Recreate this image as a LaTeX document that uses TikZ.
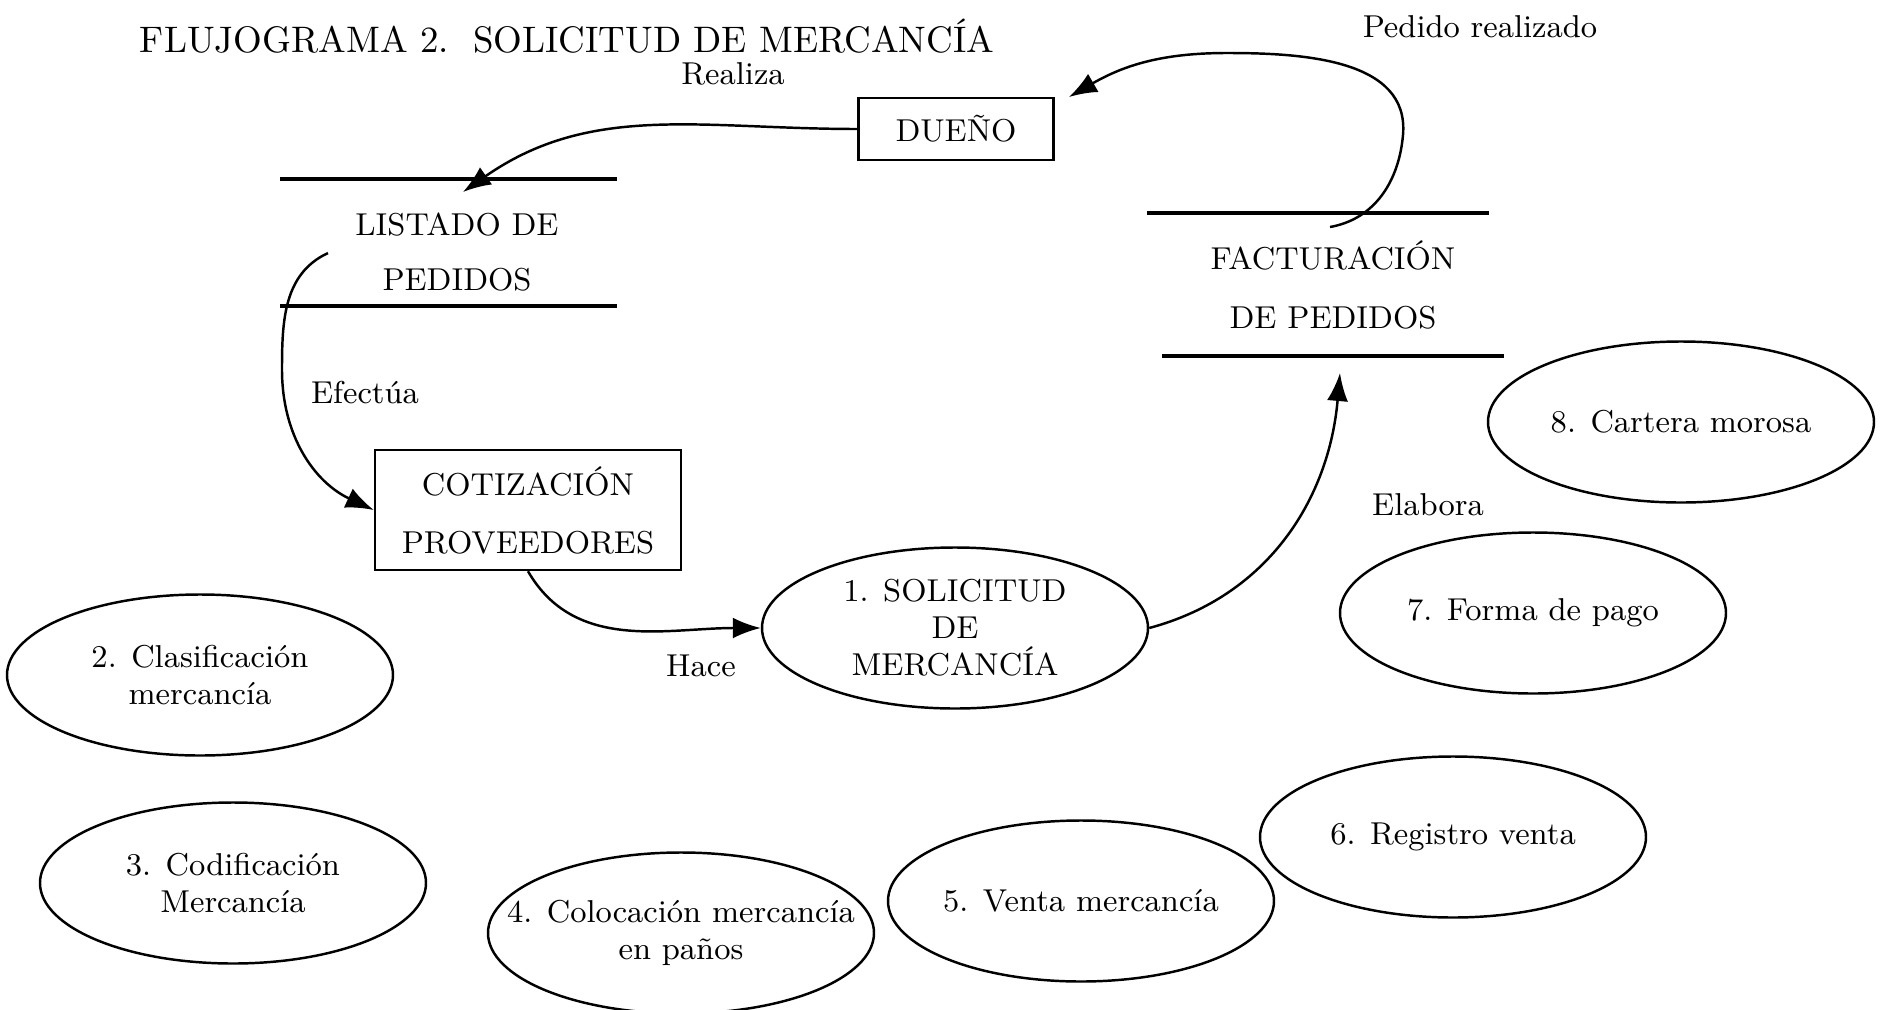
\documentclass[tikz,border=0pt]{standalone}
\usepackage{tikz}
\usetikzlibrary{arrows.meta,positioning,shapes}

\begin{document}
\begin{tikzpicture}[
  every node/.style={font=\fontsize{9}{10.5}\selectfont},
  proc/.style={ellipse,draw,line width=0.7pt,inner ysep=0pt,inner xsep=-6mm,align=center,
    minimum width=3.86cm,minimum height=1.61cm},
  ent/.style={rectangle,draw,line width=0.7pt,inner sep=0pt,align=center},
  arr/.style={-{Latex[length=2.8mm,width=2.1mm]},line width=0.7pt},
  store/.style={line width=0.9pt}]

  \useasboundingbox (0,0) rectangle (18.87,-10.10);

  % Title
  \node[font=\fontsize{10.5}{12}\selectfont] (titulo) at (5.67,-0.36) {FLUJOGRAMA 2.\ \ SOLICITUD DE MERCANCÍA};

  % Entities
  \node[ent,minimum width=1.95cm,minimum height=0.62cm] (dueno) at (9.56,-1.29) {DUEÑO};
  \node[ent,minimum width=3.06cm,minimum height=1.20cm] (cotiz) at (5.28,-5.10) {COTIZACIÓN\\[6pt]PROVEEDORES};

  % Data stores
  \node[align=center] (listado) at (4.57,-2.52) {LISTADO DE\\[5.4pt]PEDIDOS};
  \draw[store] (2.80,-1.79) -- (6.17,-1.79);
  \draw[store] (2.80,-3.06) -- (6.17,-3.06);
  \node[align=center] (factura) at (13.33,-2.85) {FACTURACIÓN\\[6.3pt]DE PEDIDOS};
  \draw[store] (11.47,-2.13) -- (14.89,-2.13);
  \draw[store] (11.62,-3.56) -- (15.04,-3.56);

  % Processes
  \node[proc] (sol) at (9.55,-6.28) {1. SOLICITUD\\DE\\MERCANCÍA};
  \node[proc] (clasif) at (2.00,-6.75) {2. Clasificación\\mercancía};
  \node[proc] (codif) at (2.33,-8.83) {3. Codificación\\Mercancía};
  \node[proc] (coloc) at (6.81,-9.33) {4. Colocación mercancía\\en paños};
  \node[proc] (venta) at (10.81,-9.01) {5. Venta mercancía};
  \node[proc] (registro) at (14.53,-8.37) {6. Registro venta};
  \node[proc] (pago) at (15.33,-6.13) {7. Forma de pago};
  \node[proc] (cartera) at (16.81,-4.22) {8. Cartera morosa};

  % Labels
  \node (realiza) at (7.33,-0.74) {Realiza};
  \node (pedido) at (14.80,-0.27) {Pedido realizado};
  \node (efectua) at (3.65,-3.93) {Efectúa};
  \node (hace) at (7.01,-6.66) {Hace};
  \node (elabora) at (14.28,-5.05) {Elabora};

  % Free ends
  \coordinate (listtop) at (4.63,-1.92);
  \coordinate (listsal) at (3.28,-2.53);
  \coordinate (factsal) at (13.30,-2.27);
  \coordinate (factbot) at (13.40,-3.73);
  \coordinate (duenotip) at (10.69,-0.97);

  % Connectors
  \draw[arr] (dueno.west) to[out=180,in=35] (listtop);
  \draw[arr] (listsal) to[out=205,in=90] (2.82,-3.70) to[out=-90,in=155] (cotiz.west);
  \draw[arr] (cotiz.south) to[out=-60,in=180] (sol.west);
  \draw[arr] (sol.east) to[out=15,in=-95] (factbot);
  \draw[arr] (factsal) to[out=10,in=-95] (14.03,-1.35) to[out=85,in=0] (12.27,-0.53) to[out=180,in=30] (duenotip);
\end{tikzpicture}
\end{document}
